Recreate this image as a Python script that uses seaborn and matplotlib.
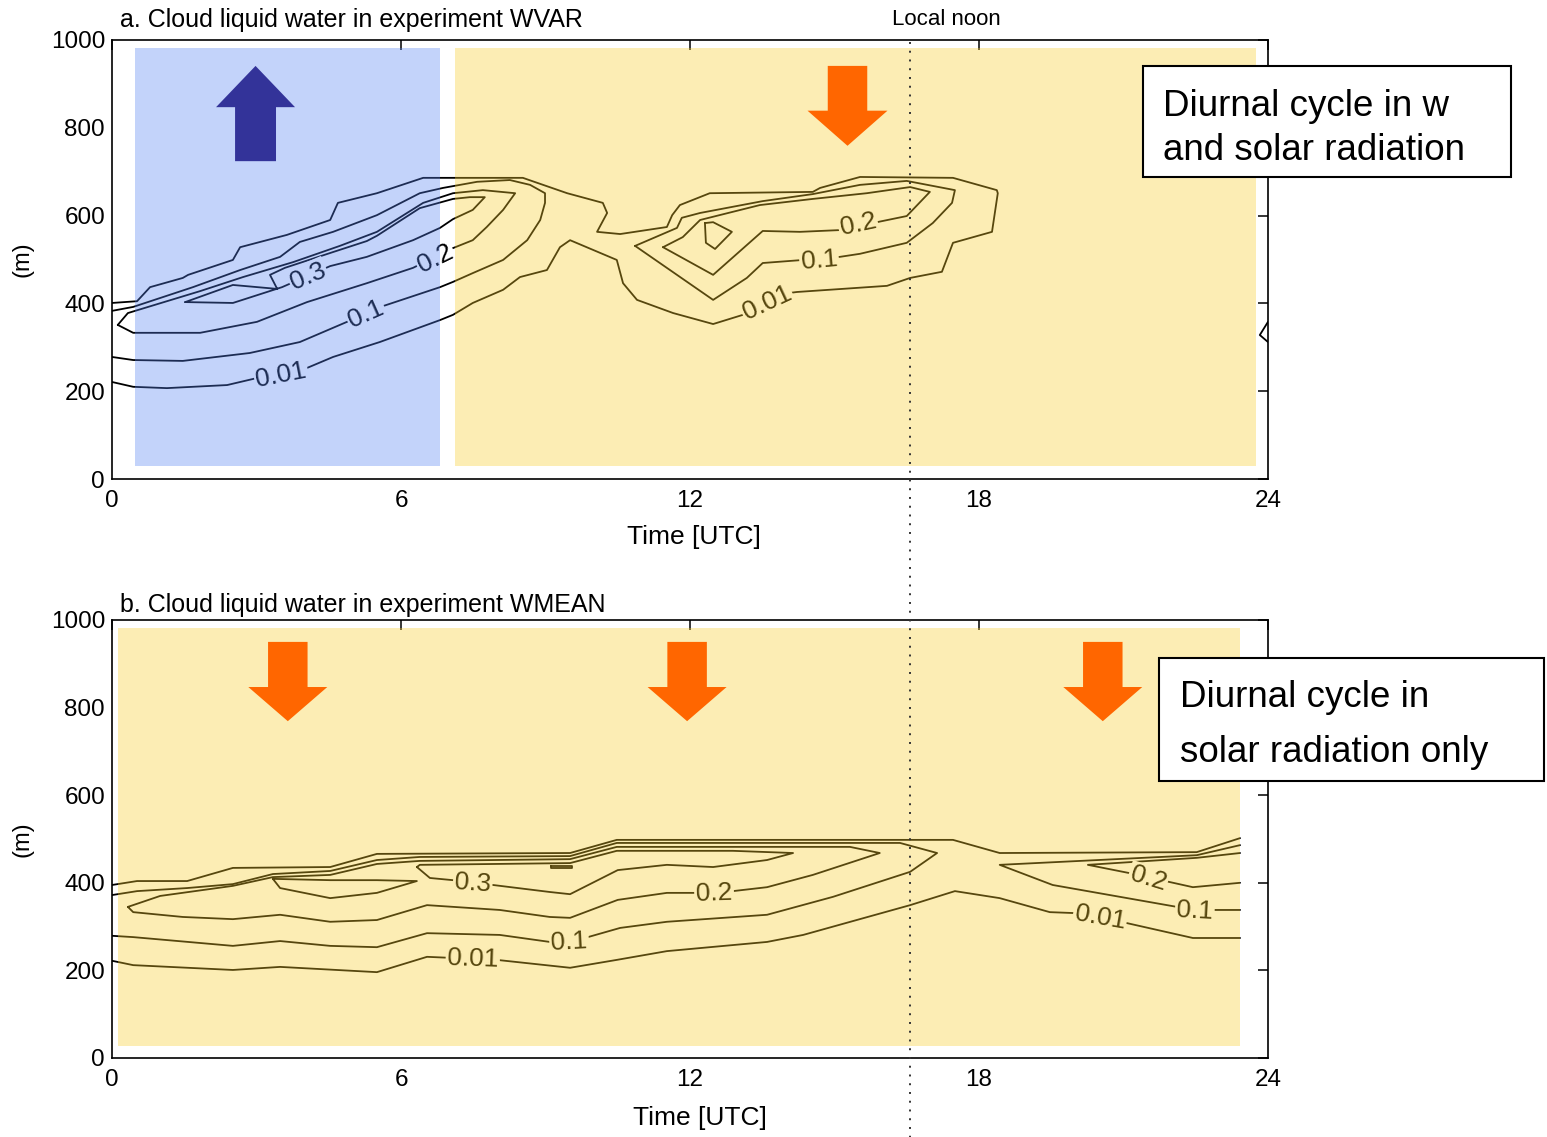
import matplotlib
matplotlib.use("Agg")
import matplotlib.pyplot as plt
import seaborn as sns
from matplotlib.patches import Rectangle, Polygon
from matplotlib import transforms

# ---------------- cloud liquid water contours, experiment WVAR ----------------
# each contour: time [h UTC], height [m]
wvar_001_t = [0, 0.52, 0.79, 1.47, 1.58, 2.51, 2.66, 3.63, 4.53, 4.69, 5.50, 6.46, 8.53, 8.95,
              9.45, 10.19, 10.28, 10.07, 10.55, 11.52, 11.63, 11.79, 12.41, 14.55, 14.70, 15.53,
              17.46, 18.37, 18.39, 18.27, 17.46, 17.23, 16.57, 16.09, 14.22, 14.08, 13.10, 12.48,
              11.65, 10.90, 10.61, 10.48, 9.51, 9.30, 9.03, 8.47, 8.12, 7.49, 7.08, 6.81, 5.56,
              4.59, 4.05, 3.01, 2.39, 1.14, 0.44, 0]
wvar_001_z = [401, 405, 437, 458, 465, 499, 528, 556, 590, 629, 651, 686, 686, 670,
              651, 629, 606, 563, 558, 574, 601, 624, 651, 654, 663, 688,
              686, 658, 651, 563, 538, 472, 458, 440, 426, 424, 374, 353,
              378, 408, 446, 499, 544, 528, 476, 460, 431, 401, 374, 362, 312,
              278, 253, 230, 214, 207, 210, 221]

wvar_01a_t = [0, 0.44, 1.68, 2.66, 3.49, 3.90, 4.59, 5.50, 6.39, 6.87, 7.58, 8.26, 8.68, 8.99,
              8.99, 8.89, 8.62, 8.12, 7.49, 7.08, 6.81, 5.63, 4.88, 3.90, 2.86, 1.47, 0.44, 0]
wvar_01a_z = [383, 392, 437, 476, 506, 540, 563, 601, 651, 663, 677, 681, 670, 651,
              629, 590, 544, 499, 469, 449, 437, 394, 358, 312, 287, 269, 271, 278]

wvar_01b_t = [10.86, 11.73, 11.83, 12.21, 13.51, 14.55, 15.53, 16.50, 17.50, 17.44, 17.04,
              16.50, 15.53, 15.11, 14.35, 13.51, 13.18, 12.48, 10.86]
wvar_01b_z = [531, 572, 595, 606, 633, 649, 670, 679, 658, 629, 583,
              538, 513, 506, 499, 492, 458, 408, 531]

wvar_02a_t = [0.12, 0.33, 1.83, 2.72, 3.76, 4.73, 5.50, 6.46, 7.08, 7.70, 8.37, 8.12, 7.78,
              7.49, 7.08, 6.25, 5.29, 4.05, 3.01, 1.83, 0.44, 0.12]
wvar_02a_z = [351, 378, 428, 460, 494, 531, 563, 629, 651, 658, 651, 613, 574,
              544, 526, 481, 446, 403, 358, 333, 333, 351]

wvar_02b_t = [11.44, 12.48, 13.51, 14.28, 15.11, 15.88, 16.50, 16.98, 16.57, 15.67, 14.55,
              13.45, 12.21, 11.85, 11.44]
wvar_02b_z = [528, 465, 565, 563, 567, 585, 599, 654, 665, 651, 638,
              624, 590, 551, 528]

wvar_03a_t = [1.52, 2.51, 3.43, 3.28, 3.59, 4.59, 5.29, 5.50, 6.39, 7.08, 7.43, 7.74, 7.49,
              7.08, 6.81, 6.25, 5.29, 4.53, 3.53, 2.51, 1.52]
wvar_03a_z = [403, 442, 433, 465, 481, 517, 542, 554, 617, 638, 642, 642, 613,
              592, 572, 544, 506, 485, 437, 401, 403]

wvar_03b_t = [12.31, 12.48, 12.87, 12.52, 12.33, 12.31]
wvar_03b_z = [583, 585, 563, 524, 538, 583]

wvar_edge_t = [24.0, 23.83, 24.0]
wvar_edge_z = [358, 328, 312]

wvar_lab_text = ["0.3", "0.2", "0.1", "0.01", "0.2", "0.1", "0.01"]
wvar_lab_t = [4.07, 6.71, 5.27, 3.51, 15.49, 14.68, 13.60]
wvar_lab_z = [462, 503, 376, 237, 579, 499, 401]
wvar_lab_rot = [23, 26, 24, 11, 12, 5, 25]

# ---------------- cloud liquid water contours, experiment WMEAN ----------------
wmean_001top_t = [0, 0.52, 1.56, 2.51, 4.53, 5.50, 9.51, 10.48, 17.46, 18.43, 22.52, 23.42]
wmean_001top_z = [395, 404, 404, 434, 436, 466, 468, 498, 498, 468, 470, 502]

wmean_001bot_t = [0, 0.44, 2.51, 3.49, 5.50, 6.54, 7.99, 9.51, 10.48, 11.52, 13.60, 14.35,
                  16.57, 17.50, 18.43, 19.47, 19.95, 21.07, 22.44, 23.42]
wmean_001bot_z = [222, 212, 201, 208, 196, 231, 224, 206, 224, 244, 265, 281,
                  349, 381, 365, 333, 331, 308, 274, 274]

wmean_01a_t = [0, 0.52, 1.56, 2.51, 3.34, 4.53, 5.50, 6.39, 9.51, 10.48, 16.36, 17.13,
               16.57, 14.97, 13.60, 11.52, 10.55, 9.88, 9.09, 8.05, 6.54, 5.50, 4.53, 3.49,
               2.51, 0.44, 0]
wmean_01a_z = [372, 381, 388, 397, 420, 427, 452, 459, 461, 491, 491, 468,
               425, 368, 327, 311, 297, 276, 265, 281, 285, 253, 256, 267,
               256, 276, 279]

wmean_01b_t = [23.42, 22.52, 18.43, 19.53, 22.11, 22.90, 23.42]
wmean_01b_z = [486, 463, 441, 395, 345, 338, 338]

wmean_02a_t = [0.33, 1.00, 2.51, 3.34, 4.53, 5.50, 6.39, 9.51, 10.48, 15.32, 15.94, 14.55,
               13.60, 12.89, 12.14, 11.52, 10.50, 9.51, 9.09, 8.05, 6.54, 5.50, 4.53, 3.49,
               2.51, 1.47, 0.44, 0.33]
wmean_02a_z = [345, 370, 393, 413, 418, 443, 450, 454, 482, 482, 468, 418,
               390, 381, 377, 377, 361, 320, 322, 338, 349, 315, 311, 327,
               317, 322, 333, 345]

wmean_02b_t = [23.42, 22.52, 20.26, 21.13, 22.44, 23.42]
wmean_02b_z = [468, 457, 441, 422, 390, 400]

wmean_03a_t = [3.34, 3.49, 4.53, 5.50, 6.33, 5.50, 4.53, 3.34]
wmean_03a_z = [409, 388, 365, 377, 404, 406, 406, 409]

wmean_03b_t = [6.33, 6.60, 7.08, 7.91, 9.09, 9.51, 10.50, 11.52, 12.48, 13.60, 14.14, 12.89,
               10.48, 9.51, 6.39, 6.33]
wmean_03b_z = [436, 411, 406, 395, 379, 374, 429, 441, 436, 452, 468, 473,
               473, 445, 441, 436]

wmean_04_t = [9.11, 9.55, 9.55, 9.11, 9.11]
wmean_04_z = [438, 438, 434, 434, 438]

wmean_lab_text = ["0.3", "0.01", "0.1", "0.2", "0.2", "0.1", "0.01"]
wmean_lab_t = [7.49, 7.49, 9.49, 12.50, 21.51, 22.48, 20.51]
wmean_lab_z = [400, 226, 265, 377, 409, 336, 320]
wmean_lab_rot = [-4, -2, 3, 2, -17, -3, -10]

# x ticks / y ticks
time_ticks = [0, 6, 12, 18, 24]
height_ticks = [0, 200, 400, 600, 800, 1000]
local_noon = 16.57

# ---------------- styling ----------------
sns.set_theme(style="white")
plt.rcParams["font.family"] = ["Liberation Sans", "DejaVu Sans"]
plt.rcParams["text.color"] = "black"
plt.rcParams["axes.labelcolor"] = "black"
plt.rcParams["xtick.color"] = "black"
plt.rcParams["ytick.color"] = "black"

W, H = 1547, 1137
fig = plt.figure(figsize=(W / 100, H / 100), dpi=100)
fig.patch.set_facecolor("white")


def px_box(x0, y0, x1, y1):
    return [x0 / W, 1 - y1 / H, (x1 - x0) / W, (y1 - y0) / H]


ax1 = fig.add_axes(px_box(112, 40, 1268, 479))
ax2 = fig.add_axes(px_box(112, 620, 1268, 1058))

LINE_LW = 1.3
BLUE_TINT = "#5481F1"
YELLOW_TINT = "#F9CC29"
TINT_ALPHA = 0.35


def draw_contours(ax, pairs):
    for t, z in pairs:
        sns.lineplot(x=t, y=z, sort=False, estimator=None, color="black",
                     lw=LINE_LW, ax=ax, zorder=2)


def draw_labels(ax, texts, ts, zs, rots):
    for s, t, z, r in zip(texts, ts, zs, rots):
        ax.text(t, z, s, rotation=r, rotation_mode="anchor", ha="center", va="center",
                fontsize=19, color="black", zorder=3,
                bbox=dict(boxstyle="square,pad=0.06", fc="white", ec="none"))


def tint(ax, t0, t1, z0, z1, color):
    ax.add_patch(Rectangle((t0, z0), t1 - t0, z1 - z0, facecolor=color,
                           alpha=TINT_ALPHA, edgecolor="none", zorder=5))


def arrow(ax, tc, z_tail, z_head_base, z_tip, half_head, half_shaft, color):
    verts = [(tc - half_shaft, z_tail), (tc + half_shaft, z_tail),
             (tc + half_shaft, z_head_base), (tc + half_head, z_head_base),
             (tc, z_tip), (tc - half_head, z_head_base), (tc - half_shaft, z_head_base)]
    ax.add_patch(Polygon(verts, closed=True, facecolor=color, edgecolor="none", zorder=6))


draw_contours(ax1, [(wvar_001_t, wvar_001_z), (wvar_01a_t, wvar_01a_z),
                    (wvar_01b_t, wvar_01b_z), (wvar_02a_t, wvar_02a_z),
                    (wvar_02b_t, wvar_02b_z), (wvar_03a_t, wvar_03a_z),
                    (wvar_03b_t, wvar_03b_z), (wvar_edge_t, wvar_edge_z)])
draw_labels(ax1, wvar_lab_text, wvar_lab_t, wvar_lab_z, wvar_lab_rot)

draw_contours(ax2, [(wmean_001top_t, wmean_001top_z), (wmean_001bot_t, wmean_001bot_z),
                    (wmean_01a_t, wmean_01a_z), (wmean_01b_t, wmean_01b_z),
                    (wmean_02a_t, wmean_02a_z), (wmean_02b_t, wmean_02b_z),
                    (wmean_03a_t, wmean_03a_z), (wmean_03b_t, wmean_03b_z),
                    (wmean_04_t, wmean_04_z)])
draw_labels(ax2, wmean_lab_text, wmean_lab_t, wmean_lab_z, wmean_lab_rot)

# shaded periods
tint(ax1, 0.48, 6.81, 30, 982, BLUE_TINT)
tint(ax1, 7.12, 23.75, 30, 982, YELLOW_TINT)
tint(ax2, 0.12, 23.42, 27, 982, YELLOW_TINT)

# subsidence / ascent arrows
arrow(ax1, 2.98, 724, 847, 941, 0.82, 0.425, "#333399")
arrow(ax1, 15.27, 941, 839, 759, 0.83, 0.41, "#FF6600")
for tc in [3.65, 11.94, 20.57]:
    arrow(ax2, tc, 950, 847, 769, 0.82, 0.41, "#FF6600")

for ax in (ax1, ax2):
    ax.set_xlim(0, 24)
    ax.set_ylim(0, 1000)
    ax.set_xticks(time_ticks)
    ax.set_yticks(height_ticks)
    ax.set_xticklabels([str(v) for v in time_ticks])
    ax.set_yticklabels([str(v) for v in height_ticks])
    ax.tick_params(axis="both", direction="in", length=7, width=1.1, top=True, right=True,
                   labelsize=17.5, colors="black")
    ax.tick_params(axis="x", pad=8)
    ax.tick_params(axis="y", pad=5)
    for sp in ax.spines.values():
        sp.set_visible(True)
        sp.set_color("black")
        sp.set_linewidth(1.2)
    ax.set_facecolor("white")
    ax.set_xlabel("Time [UTC]", fontsize=19, color="black")
    ax.set_ylabel("(m)", fontsize=17, color="black")
    ax.yaxis.set_label_coords(-0.068, 0.5)

ax1.xaxis.set_label_coords(0.503, -0.104)
ax2.xaxis.set_label_coords(0.509, -0.109)

# local noon marker spanning both panels
blend = transforms.blended_transform_factory(ax1.transData, fig.transFigure)
fig.add_artist(plt.Line2D([local_noon, local_noon], [1 - 42 / H, 0.0], transform=blend,
                          color="#333333", lw=1.4, linestyle=(0, (1, 3.5)), zorder=8))

# panel titles
fig.text(120 / W, 1 - 27 / H, "a. Cloud liquid water in experiment WVAR", fontsize=18,
         ha="left", va="baseline", color="black")
fig.text(120 / W, 1 - 612 / H, "b. Cloud liquid water in experiment WMEAN", fontsize=18,
         ha="left", va="baseline", color="black")
fig.text(892 / W, 1 - 25 / H, "Local noon", fontsize=16, ha="left", va="baseline",
         color="black")

# annotation boxes
fig.add_artist(Rectangle((1143 / W, 1 - 177 / H), (1511 - 1143) / W, (177 - 66) / H,
                         transform=fig.transFigure, facecolor="white", edgecolor="black",
                         lw=1.5, zorder=10))
fig.text(1163 / W, 1 - 116 / H, "Diurnal cycle in w", fontsize=26.5, ha="left",
         va="baseline", zorder=11, color="black")
fig.text(1163 / W, 1 - 160 / H, "and solar radiation", fontsize=26.5, ha="left",
         va="baseline", zorder=11, color="black")

fig.add_artist(Rectangle((1159 / W, 1 - 781 / H), (1544 - 1159) / W, (781 - 658) / H,
                         transform=fig.transFigure, facecolor="white", edgecolor="black",
                         lw=1.5, zorder=10))
fig.text(1180 / W, 1 - 707 / H, "Diurnal cycle in", fontsize=26.5, ha="left",
         va="baseline", zorder=11, color="black")
fig.text(1180 / W, 1 - 762 / H, "solar radiation only", fontsize=26.5, ha="left",
         va="baseline", zorder=11, color="black")

fig.savefig("out.png", dpi=100, facecolor="white")
